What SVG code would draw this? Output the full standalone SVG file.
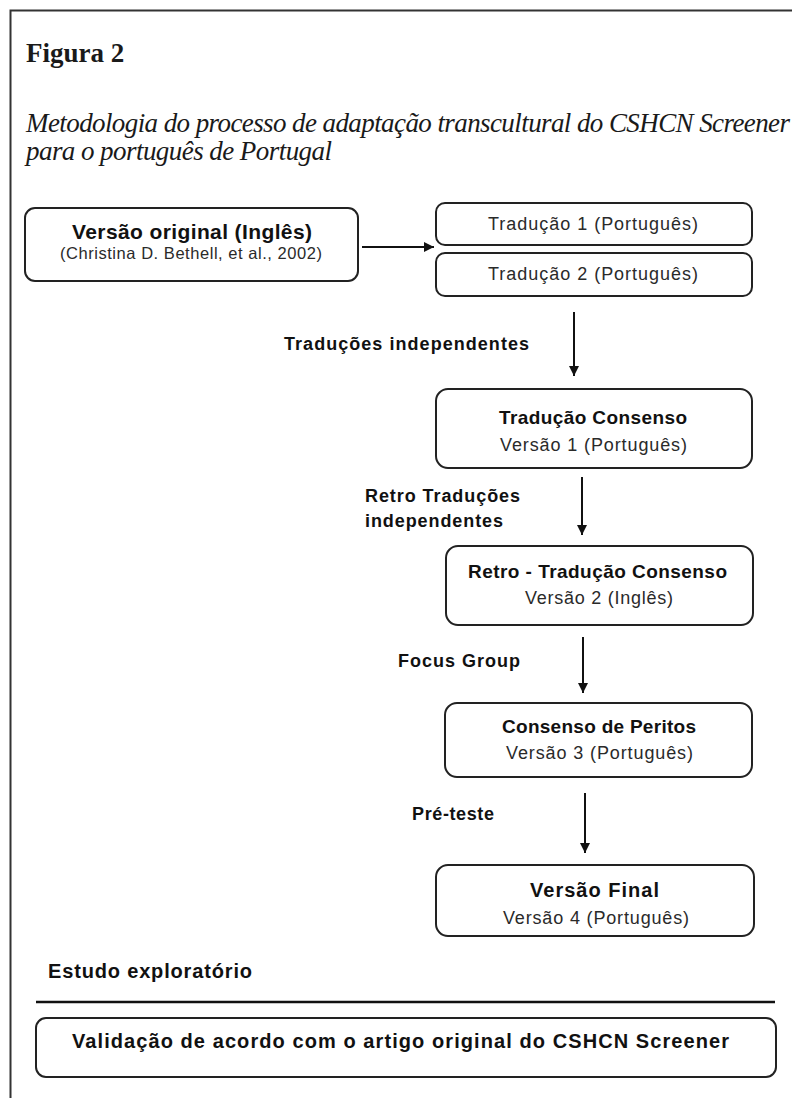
<svg xmlns="http://www.w3.org/2000/svg" width="792" height="1098" viewBox="0 0 792 1098">
<defs>
<style>
.frame{stroke:#333;stroke-width:2;fill:none}
.box{fill:#fff;stroke:#222;stroke-width:2}
.conn{stroke:#111;stroke-width:2;fill:none}
.sans{font-family:"Liberation Sans",Arial,sans-serif;fill:#111}
.b{font-weight:bold}
.reg{fill:#2a2a2a}
.serif{font-family:"Liberation Serif","Times New Roman",serif;fill:#1a1a1a}
</style>
<marker id="arr" markerUnits="userSpaceOnUse" markerWidth="10" markerHeight="10" refX="10" refY="5" orient="auto">
<path d="M0,0 L10,5 L0,10 z" fill="#111"/>
</marker>
</defs>
<rect x="0" y="0" width="792" height="1098" fill="#fff"/>
<path class="frame" d="M10.5,1098 V10.5 H792"/>
<text class="serif" x="26" y="62" font-size="27" font-weight="bold">Figura 2</text>
<text class="serif" x="26" y="132" font-size="27" font-style="italic" textLength="764">Metodologia do processo de adaptação transcultural do CSHCN Screener</text>
<text class="serif" x="26" y="160" font-size="27" font-style="italic" textLength="306">para o português de Portugal</text>

<g id="connectors">
<line class="conn" x1="362" y1="247" x2="434" y2="247" marker-end="url(#arr)"/>
<line class="conn" x1="574" y1="312" x2="574" y2="376" marker-end="url(#arr)"/>
<line class="conn" x1="582" y1="477" x2="582" y2="535" marker-end="url(#arr)"/>
<line class="conn" x1="583" y1="637" x2="583" y2="693" marker-end="url(#arr)"/>
<line class="conn" x1="585" y1="793" x2="585" y2="853" marker-end="url(#arr)"/>
</g>

<g id="labels">
<text class="sans b" x="284" y="350" font-size="18" textLength="245">Traduções independentes</text>
<text class="sans b" x="365" y="502" font-size="18" textLength="155">Retro Traduções</text>
<text class="sans b" x="365" y="527" font-size="18" textLength="138">independentes</text>
<text class="sans b" x="398" y="667" font-size="18" textLength="122">Focus Group</text>
<text class="sans b" x="412" y="820" font-size="18" textLength="82">Pré-teste</text>
</g>

<g id="original">
<rect class="box" x="25" y="208" width="333" height="73" rx="10"/>
<text class="sans b" x="72" y="239" font-size="21" textLength="240">Versão original (Inglês)</text>
<text class="sans reg" x="60" y="259" font-size="16.5" textLength="262">(Christina D. Bethell, et al., 2002)</text>
</g>

<g id="traducao1">
<rect class="box" x="436" y="203" width="316" height="42" rx="9"/>
<text class="sans reg" x="488" y="230" font-size="18" textLength="210">Tradução 1 (Português)</text>
</g>

<g id="traducao2">
<rect class="box" x="436" y="253" width="316" height="43" rx="9"/>
<text class="sans reg" x="488" y="280" font-size="18" textLength="210">Tradução 2 (Português)</text>
</g>

<g id="consenso1">
<rect class="box" x="436" y="389" width="316" height="79" rx="12"/>
<text class="sans b" x="499" y="424" font-size="19" textLength="188">Tradução Consenso</text>
<text class="sans reg" x="500" y="451" font-size="18" textLength="187">Versão 1 (Português)</text>
</g>

<g id="retro">
<rect class="box" x="446" y="546" width="307" height="79" rx="12"/>
<text class="sans b" x="468" y="578" font-size="19" textLength="259">Retro - Tradução Consenso</text>
<text class="sans reg" x="525" y="604" font-size="18" textLength="148">Versão 2 (Inglês)</text>
</g>

<g id="peritos">
<rect class="box" x="445" y="703" width="307" height="74" rx="12"/>
<text class="sans b" x="502" y="733" font-size="19" textLength="194">Consenso de Peritos</text>
<text class="sans reg" x="506" y="759" font-size="18" textLength="187">Versão 3 (Português)</text>
</g>

<g id="final">
<rect class="box" x="436" y="865" width="318" height="71" rx="12"/>
<text class="sans b" x="530" y="897" font-size="20" textLength="129">Versão Final</text>
<text class="sans reg" x="503" y="924" font-size="18" textLength="186">Versão 4 (Português)</text>
</g>

<g id="estudo">
<text class="sans b" x="48" y="978" font-size="20" textLength="204">Estudo exploratório</text>
<line x1="36" y1="1002" x2="775" y2="1002" stroke="#111" stroke-width="2.5"/>
</g>

<g id="validacao">
<rect class="box" x="36" y="1018" width="740" height="59" rx="10"/>
<text class="sans b" x="72" y="1048" font-size="20" textLength="657">Validação de acordo com o artigo original do CSHCN Screener</text>
</g>
</svg>
